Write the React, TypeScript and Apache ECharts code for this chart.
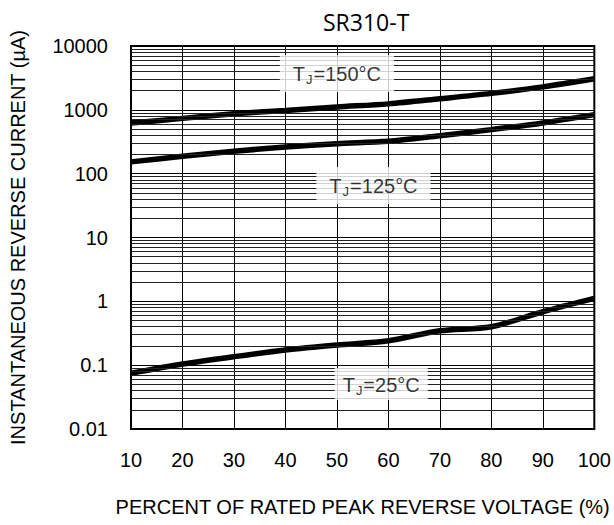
import React, { useEffect, useRef } from "react";
import * as echarts from "echarts";

const voltagePct = [10, 20, 30, 40, 50, 60, 70, 80, 90, 100];
const tj150 = [620, 735, 865, 980, 1110, 1240, 1490, 1810, 2290, 3060];
const tj125 = [153, 187, 224, 262, 295, 321, 394, 490, 624, 841];
const tj25 = [0.0745, 0.104, 0.136, 0.173, 0.207, 0.241, 0.346, 0.4, 0.687, 1.11];

const yTickLabels = ["0.01", "0.1", "1", "10", "100", "1000", "10000"];
const xTickLabels = ["10", "20", "30", "40", "50", "60", "70", "80", "90", "100"];

const title = "SR310-T";
const xName = "PERCENT OF RATED PEAK REVERSE VOLTAGE (%)";
const yName = "INSTANTANEOUS REVERSE CURRENT (\u00b5A)";

// curve annotations: [x, y] anchor in data space, temperature text
const labelTemps = ["150", "125", "25"];
const labelAnchors: [number, number][] = [
  [50, 3705],
  [57.1, 65],
  [58.6, 0.0506],
];

const FONT = "'Liberation Sans', Arial, sans-serif";

export default function App() {
  const ref = useRef<HTMLDivElement>(null);
  useEffect(() => {
    if (!ref.current) return;
    const chart = echarts.init(ref.current, undefined, { renderer: "svg" });

    const minorLines: { yAxis: number }[] = [];
    for (let e = -2; e <= 3; e++) {
      for (let m = 2; m <= 9; m++) {
        minorLines.push({ yAxis: m * Math.pow(10, e) });
      }
    }

    const curve = (data: number[]) => ({
      type: "line",
      data: voltagePct.map((x, i) => [x, data[i]]),
      smooth: 0.3,
      symbol: "none",
      lineStyle: { color: "#000", width: 5.5 },
      z: 4,
      silent: true,
    });

    const padH = [13, 13, 8];
    const padV: [number, number][] = [
      [8, 7],
      [8, 7],
      [6, 4],
    ];
    const labelSeries = labelTemps.map((t, i) => ({
      type: "scatter",
      data: [labelAnchors[i]],
      symbolSize: 0,
      z: 6,
      silent: true,
      label: {
        show: true,
        position: "inside",
        formatter: `{t|T}{s|J}{t|=${t}\u00b0C}`,
        backgroundColor: "#fff",
        padding: [padV[i][0], padH[i], padV[i][1], padH[i]],
        rich: {
          t: { fontSize: 20, fontFamily: FONT, color: "#000", lineHeight: 22 },
          s: {
            fontSize: 13,
            fontFamily: FONT,
            color: "#000",
            lineHeight: 22,
            padding: [11, 1, 0, 1],
          },
        },
      },
    }));

    chart.setOption({
      animation: false,
      title: {
        text: title,
        left: 318,
        top: 5,
        textStyle: {
          fontFamily: "'Open Sans', sans-serif",
          fontSize: 23,
          fontWeight: "normal",
          color: "#000",
        },
      },
      grid: {
        left: 131,
        right: 15,
        top: 46,
        bottom: 96,
        show: true,
        borderColor: "#000",
        borderWidth: 2,
      },
      xAxis: {
        type: "value",
        min: 10,
        max: 100,
        interval: 10,
        name: xName,
        nameLocation: "middle",
        nameGap: 68,
        nameTextStyle: { fontFamily: FONT, fontSize: 20, color: "#000" },
        axisLine: { show: true, lineStyle: { color: "#000", width: 2 } },
        axisTick: { show: false },
        axisLabel: {
          margin: 21,
          fontFamily: FONT,
          fontSize: 20,
          color: "#000",
          formatter: (v: number) => xTickLabels[Math.round((v - 10) / 10)] ?? "",
        },
        splitLine: { show: true, lineStyle: { color: "#000", width: 1 } },
      },
      yAxis: {
        type: "log",
        logBase: 10,
        min: 0.01,
        max: 10000,
        name: yName,
        nameLocation: "middle",
        nameGap: 103,
        nameTextStyle: { fontFamily: FONT, fontSize: 20, color: "#000" },
        axisLine: { show: true, lineStyle: { color: "#000", width: 2 } },
        axisTick: { show: false },
        axisLabel: {
          margin: 23,
          fontFamily: FONT,
          fontSize: 20,
          color: "#000",
          formatter: (v: number) => yTickLabels[Math.round(Math.log10(v)) + 2] ?? "",
        },
        splitLine: { show: true, lineStyle: { color: "#000", width: 1 } },
      },
      series: [
        {
          type: "line",
          data: [],
          z: 1,
          silent: true,
          markLine: {
            silent: true,
            symbol: "none",
            label: { show: false },
            lineStyle: { color: "#222", width: 1, type: "solid" },
            data: minorLines,
          },
        },
        curve(tj150),
        curve(tj125),
        curve(tj25),
        ...labelSeries,
      ],
    });
    return () => chart.dispose();
  }, []);
  return <div ref={ref} style={{ width: 614, height: 525, position: "absolute", left: 0, top: 0 }} />;
}
